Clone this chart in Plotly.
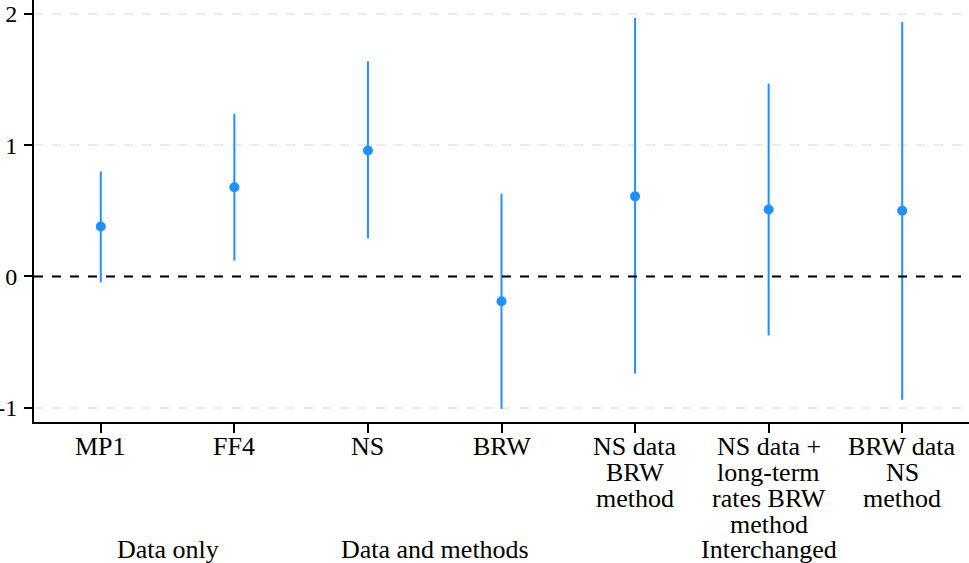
import plotly.graph_objects as go

# one list of text lines per estimate
labels = [["MP1"], ["FF4"], ["NS"], ["BRW"],
          ["NS data", "BRW", "method"],
          ["NS data +", "long-term", "rates BRW", "method"],
          ["BRW data", "NS", "method"]]
estimate = [0.38, 0.68, 0.96, -0.19, 0.61, 0.51, 0.50]
ci_low = [-0.045, 0.12, 0.29, -1.01, -0.74, -0.45, -0.94]
ci_high = [0.80, 1.24, 1.64, 0.63, 1.97, 1.47, 1.94]
groups = ["Data only", "Data and methods", "Interchanged"]
group_pos = [0.5, 2.5, 5]
yticks = [-1, 0, 1, 2]

xs = list(range(len(labels)))
font = "Liberation Serif"
fsize = 26
blue = "#1E90FF"

fig = go.Figure()
fig.add_trace(go.Scatter(
    x=xs, y=estimate, mode="markers",
    marker=dict(color=blue, size=10),
    error_y=dict(type="data", symmetric=False,
                 array=[h - e for h, e in zip(ci_high, estimate)],
                 arrayminus=[e - l for e, l in zip(estimate, ci_low)],
                 color=blue, thickness=2, width=0),
    showlegend=False,
))

fig.add_hline(y=0, line=dict(color="black", width=2, dash="dash"))

# category labels, one annotation per line for tight line spacing
for x, lines in zip(xs, labels):
    for i, line in enumerate(lines):
        fig.add_annotation(x=x, y=0, xref="x", yref="paper", text=line,
                           showarrow=False, yanchor="middle", yshift=-24 - 26 * i,
                           font=dict(family=font, size=fsize, color="black"))

for g, p in zip(groups, group_pos):
    fig.add_annotation(x=p, y=0, xref="x", yref="paper", text=g,
                       showarrow=False, yanchor="middle", yshift=-127,
                       font=dict(family=font, size=fsize, color="black"))

fig.update_layout(
    width=969, height=563,
    margin=dict(l=34, r=0, t=0, b=141),
    paper_bgcolor="white", plot_bgcolor="white",
    font=dict(family=font, size=fsize, color="black"),
)
fig.update_xaxes(
    range=[-0.5, 6.5], tickvals=xs, showticklabels=False,
    showline=True, linecolor="black", linewidth=2,
    ticks="outside", ticklen=9, tickwidth=1.5, tickcolor="black",
    showgrid=False, zeroline=False, automargin=False,
)
fig.update_yaxes(
    range=[-1.11, 2.107], tickvals=yticks, ticktext=[str(v) for v in yticks],
    tickfont=dict(size=24),
    showline=True, linecolor="black", linewidth=2,
    ticks="outside", ticklen=8, tickwidth=1.5, tickcolor="black",
    ticklabelstandoff=2, ticklabeloverflow="allow", automargin=False,
    showgrid=True, gridcolor="#ebebeb", griddash="dash", gridwidth=1.5,
    zeroline=False,
)

# drop the browser's default 8px body margin so the figure fills the window
fig.write_html("out.html", config={"displayModeBar": False},
               post_script="document.body.style.margin='0';")
